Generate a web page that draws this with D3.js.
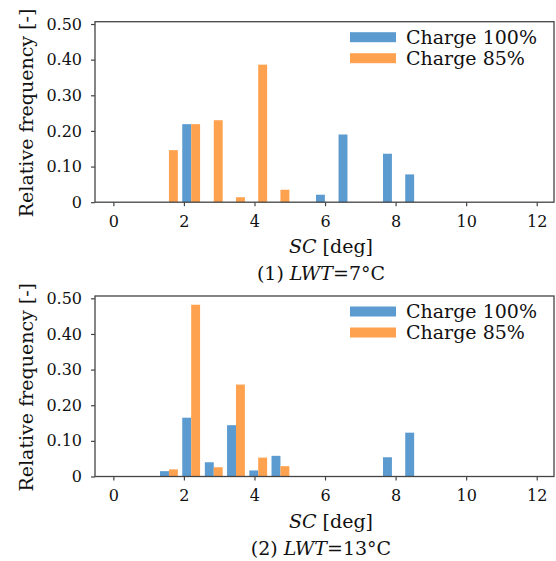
<!DOCTYPE html>
<html>
<head>
<meta charset="utf-8">
<script src="https://cdn.jsdelivr.net/npm/d3@7"></script>
<style>
  body { margin: 0; background: #fff; }
  text { font-family: "DejaVu Serif", serif; fill: #111; }
</style>
</head>
<body>
<div id="graph"></div>
<script>
// histogram bins (left edges, deg) shared by both panels
const binLeft = [1.26, 1.89, 2.53, 3.16, 3.79, 4.42, 5.05, 5.68, 6.32, 6.95, 7.58, 8.21];
const binWidth = 0.632;

// relative frequency per bin
const lwt7Charge100 = [0, 0.219, 0, 0, 0, 0, 0, 0.021, 0.190, 0, 0.136, 0.078];
const lwt7Charge85 = [0.146, 0.219, 0.230, 0.014, 0.386, 0.035, 0, 0, 0, 0, 0, 0];
const lwt13Charge100 = [0.015, 0.165, 0.040, 0.144, 0.017, 0.058, 0, 0, 0, 0, 0.054, 0.123];
const lwt13Charge85 = [0.020, 0.482, 0.026, 0.258, 0.053, 0.029, 0, 0, 0, 0, 0, 0];

const seriesNames = ["Charge 100%", "Charge 85%"];
const colors = ["#5b9bd0", "#ffa24f"];
const xTicks = [0, 2, 4, 6, 8, 10, 12];
const yTicks = [0, 0.1, 0.2, 0.3, 0.4, 0.5];
const yTickLabels = ["0", "0.10", "0.20", "0.30", "0.40", "0.50"];

const panels = [
  {top: 21.7, caption: ["(1) ", "LWT", "=7°C"], series: [lwt7Charge100, lwt7Charge85]},
  {top: 296, caption: ["(2) ", "LWT", "=13°C"], series: [lwt13Charge100, lwt13Charge85]}
];

const W = 556, H = 561,
  left = 95, right = 554, plotH = 180.5;

const svg = d3.select('#graph').append('svg')
  .attr('width', W)
  .attr('height', H);

const x = d3.scaleLinear().domain([-0.52, 12.49]).range([left, right]);

function drawPanel(p) {
  const y = d3.scaleLinear().domain([0, 0.5065]).range([p.top + plotH, p.top]);
  const g = svg.append('g');

  // bars, side by side in each bin like matplotlib hist
  p.series.forEach((vals, si) => {
    g.selectAll(null)
      .data(vals.map((v, i) => ({v: v, l: binLeft[i]})).filter(d => d.v > 0))
      .join('rect')
      .attr('x', d => x(d.l + binWidth * (0.1 + 0.4 * si)))
      .attr('width', d => x(d.l + binWidth * (0.5 + 0.4 * si)) - x(d.l + binWidth * (0.1 + 0.4 * si)))
      .attr('y', d => y(d.v))
      .attr('height', d => y(0) - y(d.v))
      .attr('fill', colors[si]);
  });

  // axes
  const xAxis = d3.axisBottom(x).tickValues(xTicks).tickSize(4).tickPadding(9);
  const yAxis = d3.axisLeft(y).tickValues(yTicks).tickSize(4).tickPadding(9)
    .tickFormat((d, i) => yTickLabels[i]);

  const gx = g.append('g').attr('transform', `translate(0,${p.top + plotH})`).call(xAxis);
  const gy = g.append('g').attr('transform', `translate(${left},0)`).call(yAxis);
  [gx, gy].forEach(a => {
    a.select('.domain').remove();
    a.selectAll('line').attr('stroke', '#444').attr('stroke-width', 1.2);
    a.selectAll('text').style('font-family', '"DejaVu Serif", serif').style('font-size', '16px').attr('fill', '#111');
  });

  // frame
  g.append('rect')
    .attr('x', left).attr('y', p.top)
    .attr('width', right - left).attr('height', plotH)
    .attr('fill', 'none').attr('stroke', '#444').attr('stroke-width', 1.3);

  // y label
  g.append('text')
    .attr('transform', `translate(33,${p.top + plotH / 2 + 1}) rotate(-90)`)
    .attr('text-anchor', 'middle')
    .style('font-size', '19px')
    .text('Relative frequency [-]');

  // x label
  const xl = g.append('text')
    .attr('x', 331).attr('y', p.top + 231.5)
    .attr('text-anchor', 'middle')
    .style('font-size', '19px');
  xl.append('tspan').style('font-style', 'italic').text('SC');
  xl.append('tspan').text(' [deg]');

  // caption
  const cap = g.append('text')
    .attr('x', 321).attr('y', p.top + 258.5)
    .attr('text-anchor', 'middle')
    .style('font-size', '19px');
  cap.append('tspan').text(p.caption[0]);
  cap.append('tspan').style('font-style', 'italic').text(p.caption[1]);
  cap.append('tspan').text(p.caption[2]);

  // legend
  seriesNames.forEach((name, i) => {
    const cy = p.top + 15.5 + i * 21;
    g.append('rect')
      .attr('x', 350).attr('y', cy - 5)
      .attr('width', 46).attr('height', 10)
      .attr('fill', colors[i]);
    g.append('text')
      .attr('x', 406).attr('y', cy + 6.5)
      .style('font-size', '19px')
      .text(name);
  });
}

panels.forEach(drawPanel);
</script>
</body>
</html>
